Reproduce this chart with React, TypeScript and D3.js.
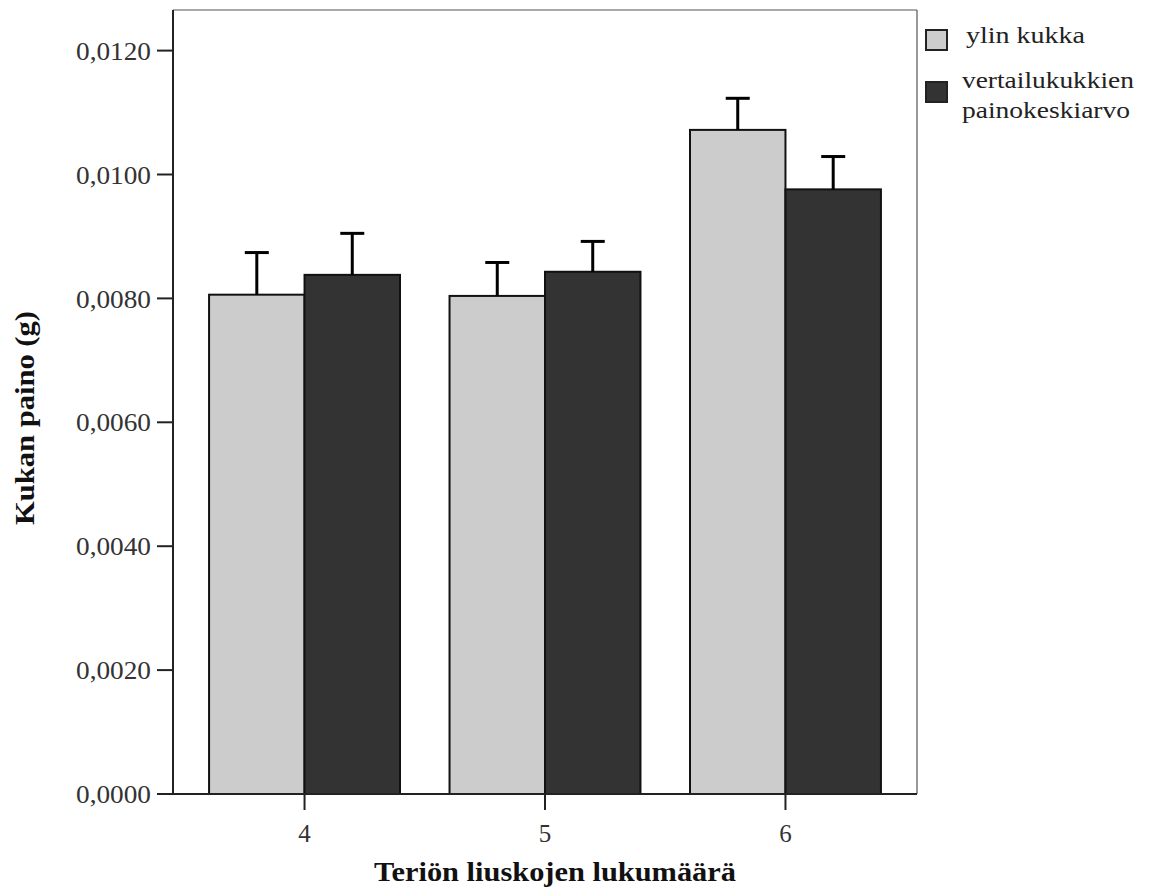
import React from "react";
import * as d3 from "d3";

const categories = ["4", "5", "6"];
const seriesNames = ["ylin kukka", "vertailukukkien painokeskiarvo"];
const ylinKukka = [0.00806, 0.00804, 0.01072];
const ylinKukkaErr = [0.00874, 0.00858, 0.01123];
const vertailu = [0.00838, 0.00843, 0.00976];
const vertailuErr = [0.00905, 0.00892, 0.01029];
const yTicks = [0, 0.002, 0.004, 0.006, 0.008, 0.01, 0.012];
const colors = ["#cccccc", "#333333"];

const W = 1154;
const H = 891;
const left = 173;
const right = 917;
const top = 10;
const bottom = 794;
const font = "'Times New Roman', 'Liberation Serif', Times, serif";

export default function App() {
  const y = d3.scaleLinear().domain([0, 0.012]).range([bottom, 50.6]);
  const x0 = d3
    .scaleBand<string>()
    .domain(categories)
    .range([left, right])
    .paddingInner(0.206)
    .paddingOuter(0.15);
  const x1 = d3
    .scaleBand<string>()
    .domain(["a", "b"])
    .range([0, x0.bandwidth()]);
  const series = [
    { key: "a", vals: ylinKukka, err: ylinKukkaErr, color: colors[0] },
    { key: "b", vals: vertailu, err: vertailuErr, color: colors[1] },
  ];
  const fmt = (v: number) => v.toFixed(4).replace(".", ",");
  const legendLines = ["vertailukukkien", "painokeskiarvo"];

  return (
    <svg
      width={W}
      height={H}
      style={{ position: "absolute", left: 0, top: 0, background: "#fff", fontFamily: font }}
    >
      {/* frame */}
      <line x1={left} x2={right} y1={top} y2={top} stroke="#555" strokeWidth={1.2} />
      <line x1={right} x2={right} y1={top} y2={bottom} stroke="#555" strokeWidth={1.2} />

      {/* bars */}
      {categories.map((c, i) =>
        series.map((s) => {
          const bx = (x0(c) as number) + (x1(s.key) as number);
          const bw = x1.bandwidth();
          const yt = y(s.vals[i]);
          const cx = bx + bw / 2;
          return (
            <g key={c + s.key}>
              <rect
                x={bx}
                y={yt}
                width={bw}
                height={bottom - yt}
                fill={s.color}
                stroke="#111"
                strokeWidth={2}
              />
              <line x1={cx} x2={cx} y1={yt} y2={y(s.err[i])} stroke="#000" strokeWidth={3} />
              <line
                x1={cx - 12}
                x2={cx + 12}
                y1={y(s.err[i])}
                y2={y(s.err[i])}
                stroke="#000"
                strokeWidth={3}
              />
            </g>
          );
        })
      )}

      {/* y axis */}
      <line x1={left} x2={left} y1={top} y2={bottom} stroke="#222" strokeWidth={2} />
      {yTicks.map((t) => (
        <g key={t}>
          <line x1={157} x2={left} y1={y(t)} y2={y(t)} stroke="#222" strokeWidth={2} />
          <text
            x={151}
            y={y(t)}
            dy="0.35em"
            textAnchor="end"
            fontSize={26}
            textLength={75}
            lengthAdjust="spacingAndGlyphs"
            fill="#333"
          >
            {fmt(t)}
          </text>
        </g>
      ))}

      {/* x axis */}
      <line x1={left} x2={right} y1={bottom} y2={bottom} stroke="#222" strokeWidth={2} />
      {categories.map((c) => {
        const cx = (x0(c) as number) + x0.bandwidth() / 2;
        return (
          <g key={c}>
            <line x1={cx} x2={cx} y1={bottom} y2={810} stroke="#222" strokeWidth={2} />
            <text x={cx} y={842} textAnchor="middle" fontSize={25} fill="#333">
              {c}
            </text>
          </g>
        );
      })}

      {/* axis titles */}
      <text
        x={555}
        y={881}
        textAnchor="middle"
        fontSize={27}
        fontWeight="bold"
        textLength={362}
        lengthAdjust="spacingAndGlyphs"
        fill="#111"
      >
        Teriön liuskojen lukumäärä
      </text>
      <text
        transform="translate(34,418) rotate(-90)"
        textAnchor="middle"
        fontSize={28}
        fontWeight="bold"
        textLength={214}
        lengthAdjust="spacingAndGlyphs"
        fill="#111"
      >
        Kukan paino (g)
      </text>

      {/* legend */}
      <rect x={926} y={30} width={21} height={20} fill={colors[0]} stroke="#222" strokeWidth={2} />
      <text
        x={966}
        y={43}
        fontSize={23}
        textLength={119}
        lengthAdjust="spacingAndGlyphs"
        fill="#222"
      >
        {seriesNames[0]}
      </text>
      <rect x={926} y={82} width={21} height={20} fill={colors[1]} stroke="#222" strokeWidth={2} />
      <text
        x={962}
        y={88}
        fontSize={23}
        textLength={172}
        lengthAdjust="spacingAndGlyphs"
        fill="#222"
      >
        {legendLines[0]}
      </text>
      <text
        x={962}
        y={118}
        fontSize={23}
        textLength={168}
        lengthAdjust="spacingAndGlyphs"
        fill="#222"
      >
        {legendLines[1]}
      </text>
    </svg>
  );
}
